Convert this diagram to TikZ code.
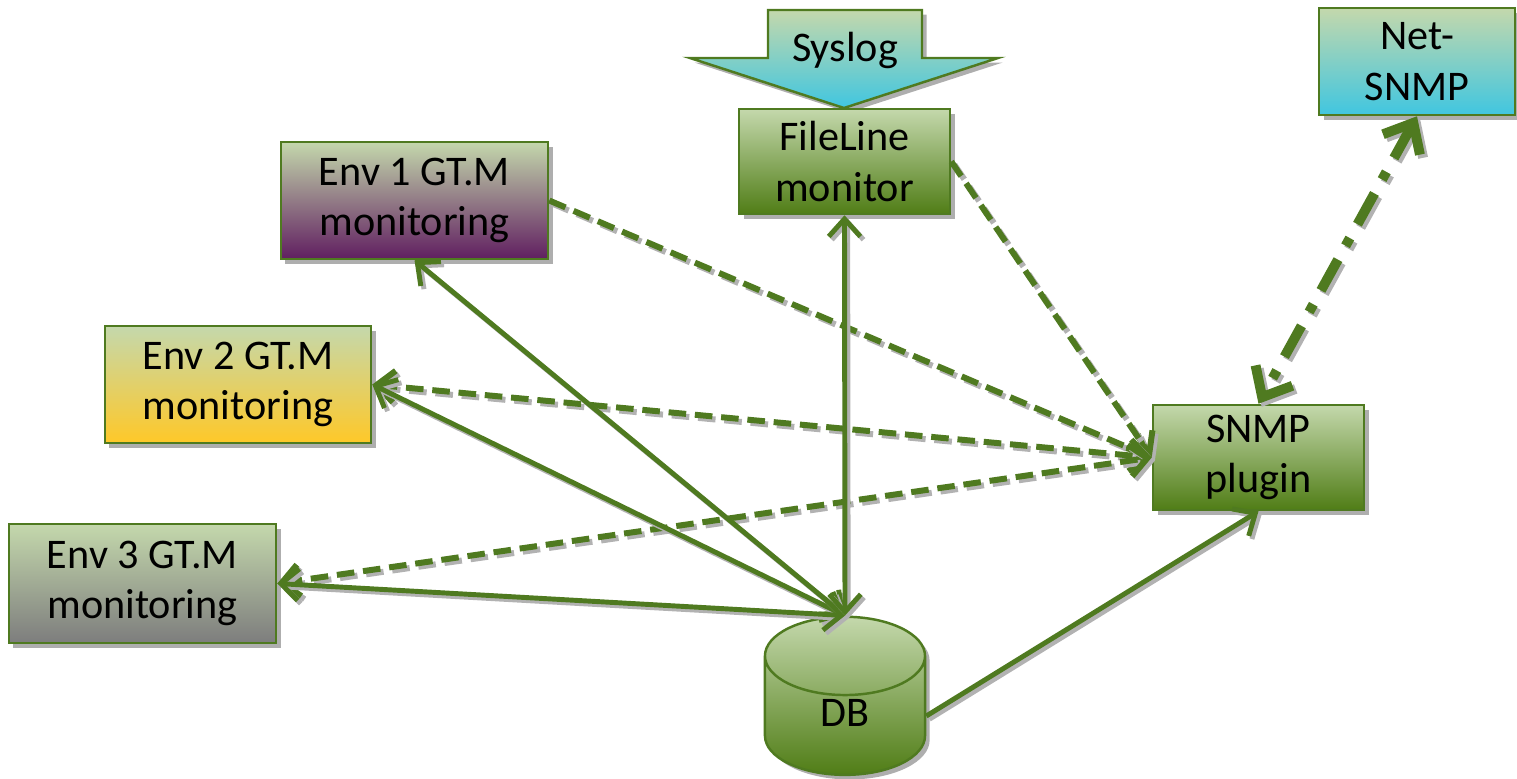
\documentclass[tikz,border=0pt]{standalone}
\usepackage{fontspec}
\setmainfont{Carlito}
\usetikzlibrary{arrows.meta,shapes.geometric,shadows}

\definecolor{linegreen}{RGB}{79,122,32}
\definecolor{boxtop}{RGB}{196,216,172}
\definecolor{greenbot}{RGB}{80,125,22}
\definecolor{purplebot}{RGB}{96,30,96}
\definecolor{yellowbot}{RGB}{255,200,40}
\definecolor{graybot}{RGB}{125,125,125}
\definecolor{cyanbot}{RGB}{64,198,224}

\begin{document}
\begin{tikzpicture}[x=0.01cm,y=-0.01cm,
	box/.style={draw=linegreen, line width=0.7pt, align=center, inner sep=0pt,
		font=\fontsize{12}{14.4}\selectfont, top color=boxtop,
		drop shadow={shadow xshift=1.3pt, shadow yshift=-1.3pt, fill=black!45, opacity=0.7}},
	link/.style={draw=linegreen, line width=1.4pt, >={Straight Barb[length=5pt,width=9pt]},
		preaction={draw=black!30, line width=1.4pt, transform canvas={xshift=0.9pt,yshift=-0.9pt}}},
	dlink/.style={draw=linegreen, line width=1.7pt, dash pattern=on 5pt off 2.5pt,
		>={Straight Barb[length=5pt,width=9pt]},
		preaction={draw=black!30, line width=1.7pt, dash pattern=on 5pt off 2.5pt,
			transform canvas={xshift=0.9pt,yshift=-0.9pt}}},
	ddlink/.style={draw=linegreen, line width=2.8pt, dash pattern=on 10pt off 4.5pt on 2.5pt off 4.5pt,
		>={Straight Barb[length=7pt,width=12pt]},
		preaction={draw=black!30, line width=2.8pt, dash pattern=on 10pt off 4.5pt on 2.5pt off 4.5pt,
			transform canvas={xshift=0.9pt,yshift=-0.9pt}}}
]
	\useasboundingbox (0,0) rectangle (1517,778);

	% syslog input arrow
	\shade[draw=linegreen, line width=0.7pt, top color=boxtop, bottom color=cyanbot,
		drop shadow={shadow xshift=1.3pt, shadow yshift=-1.3pt, fill=black!45, opacity=0.7}]
		(768,10) -- (922,10) -- (922,58) -- (998,58) -- (844,108) -- (690,58) -- (768,58) -- cycle;
	\node[font=\fontsize{12}{14.4}\selectfont] (syslog) at (845,50) {Syslog};

	% boxes
	\node[box, bottom color=greenbot, minimum width=2.11cm, minimum height=1.05cm] (fileline) at (844.5,161.5) {FileLine\\monitor};
	\node[box, bottom color=cyanbot, minimum width=1.96cm, minimum height=1.07cm] (netsnmp) at (1417,61.5) {Net-\\SNMP};
	\node[box, bottom color=purplebot, minimum width=2.67cm, minimum height=1.17cm] (env1) at (414.5,200.5) {Env 1 GT.M\\monitoring};
	\node[box, bottom color=yellowbot, minimum width=2.66cm, minimum height=1.17cm] (env2) at (238,384.5) {Env 2 GT.M\\monitoring};
	\node[box, bottom color=graybot, minimum width=2.67cm, minimum height=1.19cm] (env3) at (142.5,583.5) {Env 3 GT.M\\monitoring};
	\node[box, bottom color=greenbot, minimum width=2.11cm, minimum height=1.05cm] (snmp) at (1258.5,457.5) {SNMP\\plugin};
	\node[box, bottom color=greenbot, cylinder, shape border rotate=90, aspect=1.6,
		minimum width=1.6cm, minimum height=1.58cm] (db) at (845,716) {\raisebox{-3pt}[0pt][0pt]{DB}};

	% connectors
	\draw[dlink,->] (env1.east) -- (snmp.west);
	\draw[dlink,->] (fileline.east) -- (snmp.west);
	\draw[dlink,<->] (env2.east) -- (snmp.west);
	\draw[dlink,<->] (env3.east) -- (snmp.west);
	\draw[link,<->] (env1.south) -- (db.north);
	\draw[link,<->] (env2.east) -- (db.north);
	\draw[link,<->] (env3.east) -- (db.north);
	\draw[link,<->] (fileline.south) -- (db.north);
	\draw[link,->] (db.east) -- (snmp.south);
	\draw[ddlink,<->] (netsnmp.south) -- (snmp.north);
\end{tikzpicture}
\end{document}
